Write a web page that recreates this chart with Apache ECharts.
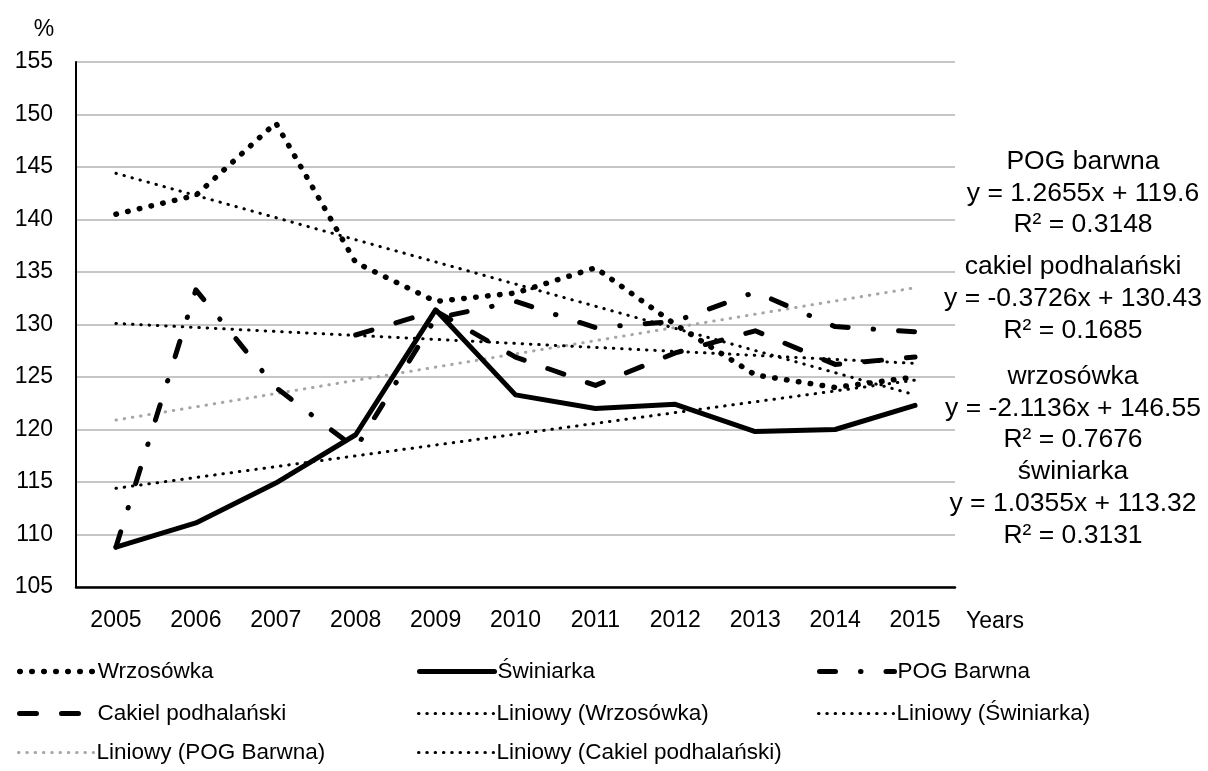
<!DOCTYPE html>
<html>
<head>
<meta charset="utf-8">
<script src="https://cdn.jsdelivr.net/npm/echarts@6/dist/echarts.min.js"></script>
<style>
html,body{margin:0;padding:0;background:#fff;}
#chart{width:1208px;height:771px;}
</style>
</head>
<body>
<div id="chart"></div>
<script>
// ---- data ----
const years = ['2005','2006','2007','2008','2009','2010','2011','2012','2013','2014','2015'];
const wrzosowka = [140.5, 142.3, 149.2, 135.9, 132.2, 133.0, 135.4, 130.0, 125.2, 124.0, 125.0];
const swiniarka = [108.8, 111.1, 114.9, 119.5, 131.4, 123.3, 122.0, 122.4, 119.8, 120.0, 122.3];
const pogBarwna = [108.8, 133.3, 124.0, 118.2, 130.6, 132.2, 129.7, 130.3, 133.1, 129.8, 129.3];
const cakiel = [null, null, null, 129.0, 131.3, 126.9, 124.2, 127.3, 129.4, 126.2, 126.9];
// linear trend lines: value at first (x=1) and last (x=11) category
const trendX = [1, 11];
const trendWrzosowka = [144.4, 123.3];
const trendSwiniarka = [114.4, 124.7];
const trendPog = [120.9, 133.5];
const trendCakiel = [130.1, 126.3];
const yTicks = {min: 105, max: 155, step: 5};
const equations = [
  ['POG barwna', 'y = 1.2655x + 119.6', 'R² = 0.3148'],
  ['cakiel podhalański', 'y = -0.3726x + 130.43', 'R² = 0.1685'],
  ['wrzosówka', 'y = -2.1136x + 146.55', 'R² = 0.7676'],
  ['świniarka', 'y = 1.0355x + 113.32', 'R² = 0.3131']
];
const names = {
  wrz: 'Wrzosówka', swi: 'Świniarka', pog: 'POG Barwna', cak: 'Cakiel podhalański',
  twrz: 'Liniowy (Wrzosówka)', tswi: 'Liniowy (Świniarka)', tpog: 'Liniowy (POG Barwna)', tcak: 'Liniowy (Cakiel podhalański)'
};
// legend layout: [name, column, row]
const legendLayout = [
  [names.wrz, 0, 0], [names.swi, 1, 0], [names.pog, 2, 0],
  [names.cak, 0, 1], [names.twrz, 1, 1], [names.tswi, 2, 1],
  [names.tpog, 0, 2], [names.tcak, 1, 2]
];

// ---- styles ----
const FONT = 'Liberation Sans, Arial, sans-serif';
const FS_AX = 23, FS_LEG = 22.5, FS_EQ = 26.5;
const TXT = '#000';
const styles = {
  wrz: {color:'#000', width:5.5, type:[0.5, 11.5], cap:'round', join:'round'},
  swi: {color:'#000', width:5, type:'solid', cap:'round', join:'round'},
  pog: {color:'#000', width:5, type:[16, 25, 0.5, 25], cap:'round', join:'round'},
  cak: {color:'#000', width:5, type:[17, 25], cap:'round', join:'round'},
  tblk: {color:'#000', width:3, type:[0.5, 7.8], cap:'round'},
  tgry: {color:'#a6a6a6', width:3, type:[0.5, 7.8], cap:'round'}
};

function lineSeries(name, data, ls, z){
  return {name, type:'line', data, symbol:'none', showSymbol:false, connectNulls:false,
    lineStyle: ls, itemStyle:{color: ls.color}, silent:true, z: z, emphasis:{disabled:true}};
}
function trendSeries(name, vals, ls){
  return {name, type:'line', xAxisIndex:1, yAxisIndex:0,
    data: trendX.map((x,i)=>[x, vals[i]]), symbol:'none', showSymbol:false,
    lineStyle: ls, itemStyle:{color: ls.color}, silent:true, z:3, emphasis:{disabled:true}};
}

const graphics = [
  {type:'text', x:44, y:30, style:{text:'%', font:`${FS_AX}px ${FONT}`, fill:TXT, textAlign:'center', textVerticalAlign:'middle'}},
  {type:'text', x:966, y:622, style:{text:'Years', font:`${FS_AX}px ${FONT}`, fill:TXT, textAlign:'left', textVerticalAlign:'middle'}}
];
const eqCenters = [1083, 1073, 1073, 1073];
const eqLineY = [[162, 193.5, 225], [267, 299, 331], [377, 409, 440], [472, 504, 536]];
equations.forEach((lines, i) => {
  lines.forEach((t, j) => {
    graphics.push({type:'text', x:eqCenters[i], y:eqLineY[i][j],
      style:{text:t, font:`${FS_EQ}px ${FONT}`, fill:TXT, textAlign:'center', textVerticalAlign:'middle'}});
  });
});

const colLeft = [17, 417, 817];
const rowMid = [669, 711, 750];
const legends = legendLayout.map(([nm, c, r]) => ({
  data:[nm], left: colLeft[c], top: rowMid[r] - 9, padding:0,
  itemWidth:75, itemHeight:14, selectedMode:false,
  textStyle:{fontSize:FS_LEG, fontFamily:FONT, color:TXT, padding:[0,0,0,-2]},
  lineStyle:{width:'inherit'},
  itemStyle:{opacity:0, color:'rgba(0,0,0,0)', borderWidth:0}
}));

const chart = echarts.init(document.getElementById('chart'), null, {renderer:'canvas'});
chart.setOption({
  animation:false,
  backgroundColor:'#fff',
  textStyle:{fontFamily:FONT},
  grid:{left:76, right:253, top:62, bottom:184, containLabel:false},
  xAxis:[
    {type:'category', data:years, boundaryGap:true,
     axisLine:{show:true, lineStyle:{color:'#000', width:2.5}},
     axisTick:{show:false}, splitLine:{show:false},
     axisLabel:{fontSize:FS_AX, color:TXT, margin:22, fontFamily:FONT}},
    {type:'value', min:0.5, max:11.5, show:false}
  ],
  yAxis:{type:'value', min:yTicks.min, max:yTicks.max, interval:yTicks.step,
    axisLine:{show:true, lineStyle:{color:'#000', width:2}},
    axisTick:{show:false},
    splitLine:{lineStyle:{color:'#c6c6c6', width:2}},
    axisLabel:{fontSize:FS_AX, color:TXT, margin:23, fontFamily:FONT}},
  legend: legends,
  graphic: graphics,
  series:[
    lineSeries(names.wrz, wrzosowka, styles.wrz, 5),
    lineSeries(names.swi, swiniarka, styles.swi, 5),
    lineSeries(names.pog, pogBarwna, styles.pog, 5),
    lineSeries(names.cak, cakiel, styles.cak, 5),
    trendSeries(names.twrz, trendWrzosowka, styles.tblk),
    trendSeries(names.tswi, trendSwiniarka, styles.tblk),
    trendSeries(names.tpog, trendPog, styles.tgry),
    trendSeries(names.tcak, trendCakiel, styles.tblk)
  ]
});
</script>
</body>
</html>
